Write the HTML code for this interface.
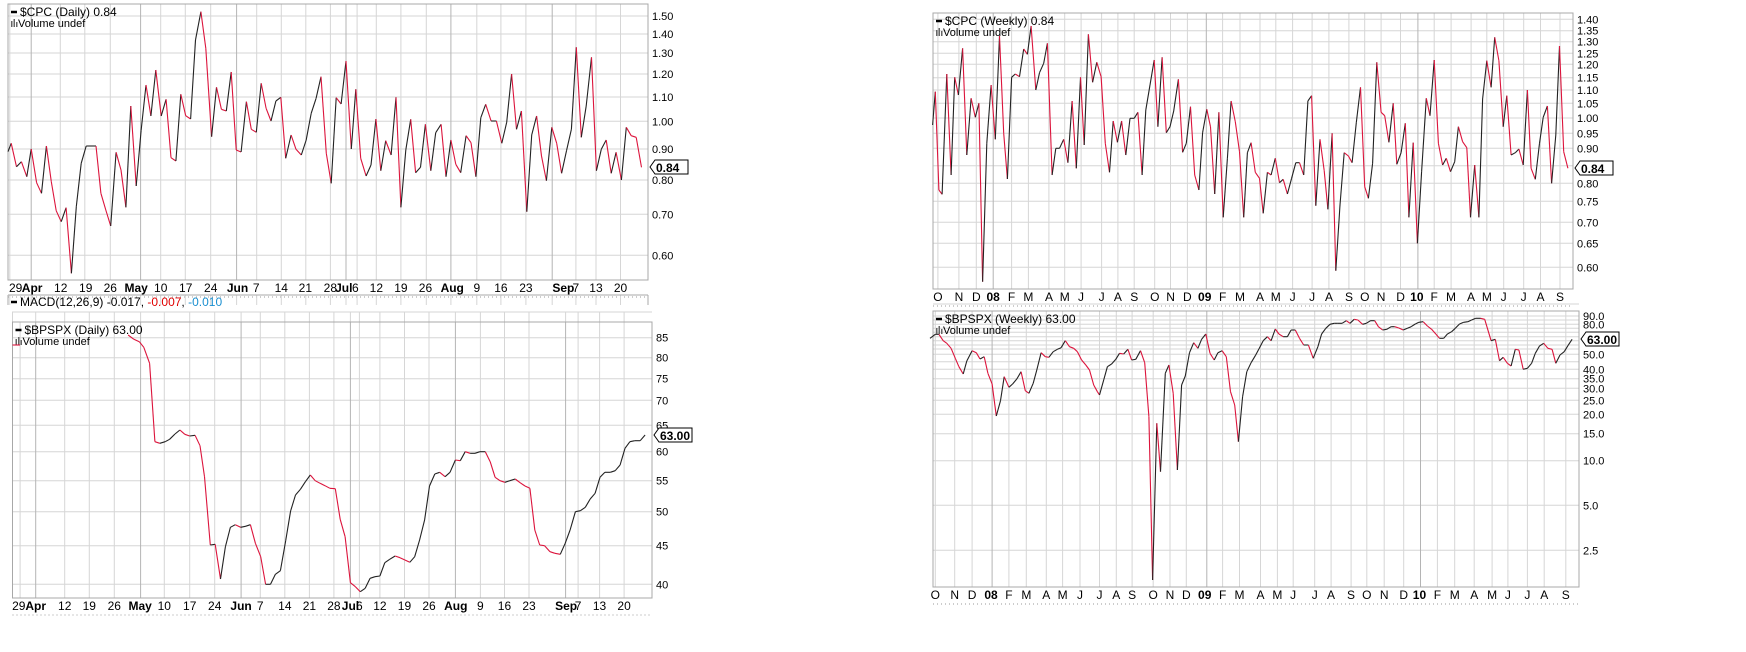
<!DOCTYPE html>
<html><head><meta charset="utf-8"><style>
html,body{margin:0;padding:0;background:#fff;width:1746px;height:652px;overflow:hidden}
svg text{font-family:"Liberation Sans",sans-serif;font-size:11px;fill:#000}
</style></head><body>
<svg id="s" width="1746" height="652" xmlns="http://www.w3.org/2000/svg"></svg>
<script>
var S=document.getElementById('s'),out=[];
function L(x1,y1,x2,y2,c,w,d){out.push('<line x1="'+x1.toFixed(1)+'" y1="'+y1.toFixed(1)+'" x2="'+x2.toFixed(1)+'" y2="'+y2.toFixed(1)+'" stroke="'+c+'" stroke-width="'+(w||1)+'"'+(d?' stroke-dasharray="'+d+'"':'')+'/>');}
function T(x,y,t,o){o=o||{};out.push('<text x="'+x+'" y="'+y+'"'+(o.a?' text-anchor="'+o.a+'"':'')+(o.b?' font-weight="bold"':'')+(o.s?' style="font-size:'+o.s+'px"':'')+(o.f?' fill="'+o.f+'"':'')+'>'+t+'</text>');}
function chart(c){
 var X=function(v){return c.ox+v/c.sx},Y=function(v){return c.oy+v/3};
 // hgrid
 c.h.forEach(function(g){var y=Y(g[0]);L(c.l,y,c.r,y,'#d6d6d6');if(g[1])T(c.r+4,y+4,g[1],{s:c.fs||11});});
 c.v.forEach(function(g){var x=X(g[0]);L(x,c.vt||c.t,x,c.b,g[1]?'#b4b4b4':'#d6d6d6');});
 out.push('<rect x="'+c.l+'" y="'+c.t+'" width="'+(c.r-c.l)+'" height="'+(c.b-c.t)+'" fill="none" stroke="#a8a8a8"/>');
 c.x.forEach(function(g){T(X(g[0]),c.b+12,g[1],{a:'middle',b:g[2],s:12});});
 L(c.l,c.b+17,c.r,c.b+17,'#999',1,'1,3');
 // series
 var p=c.p,d='';
 for(var i=1;i<p.length;i++){var col=p[i][1]>p[i-1][1]?'#dc143c':'#222';
  L(X(p[i-1][0]),Y(p[i-1][1]),X(p[i][0]),Y(p[i][1]),col,1.1);}
 // title
 L(c.l+3,c.t+8,c.l+9,c.t+8,'#000',2.5);
 T(c.l+12,c.t+12,c.title,{s:12});
 out.push('<rect x="'+(c.l+3)+'" y="'+(c.t+17)+'" width="1.5" height="6" fill="#666"/><rect x="'+(c.l+5.5)+'" y="'+(c.t+15)+'" width="1.5" height="8" fill="#666"/><rect x="'+(c.l+8)+'" y="'+(c.t+18)+'" width="1.5" height="5" fill="#666"/>');
 T(c.l+10,c.t+23,'Volume undef',{s:11,f:'#555'});
 // value box
 var by=c.box[1];
 out.push('<path d="M'+(c.r+2)+' '+by+' L'+(c.r+7)+' '+(by-7)+' L'+(c.r+40)+' '+(by-7)+' L'+(c.r+40)+' '+(by+7)+' L'+(c.r+7)+' '+(by+7)+' Z" fill="#fff" stroke="#000"/>');
 T(c.r+8,by+5,c.box[0],{b:1,s:12});
}
// ---------- top-left daily CPC ----------
chart({ox:0,sx:2.24,oy:0,l:8,r:648,t:4,b:280,title:'$CPC (Daily) 0.84',box:['0.84',167],
 h:[[48,'1.50'],[102,'1.40'],[159,'1.30'],[222,'1.20'],[291,'1.10'],[364,'1.00'],[447,'0.90'],[540,'0.80'],[643,'0.70'],[766,'0.60']],
 v:[[22],[70,1],[135],[190],[247],[315,1],[360],[415],[472],[530,1],[575],[630],[685],[740],[775,1],[800],[843],[898],[955],[1010,1],[1068],[1122],[1178],[1237,1],[1290],[1335],[1390]],
 x:[[35,'29'],[72,'Apr',1],[136,'12'],[192,'19'],[247,'26'],[305,'May',1],[360,'10'],[416,'17'],[472,'24'],[532,'Jun',1],[574,'7'],[630,'14'],[684,'21'],[740,'28'],[770,'Jul',1],[796,'6'],[843,'12'],[898,'19'],[953,'26'],[1013,'Aug',1],[1068,'9'],[1122,'16'],[1178,'23'],[1262,'Sep',1],[1290,'7'],[1335,'13'],[1390,'20']],
 p:[[18,455],[25,430],[37,500],[48,485],[60,530],[70,447],[82,548],[93,580],[104,438],[115,545],[126,632],[137,665],[148,623],[160,820],[171,620],[182,490],[193,438],[215,438],[226,580],[237,630],[248,678],[260,457],[271,510],[282,622],[293,318],[305,558],[316,392],[327,255],[338,348],[349,210],[361,348],[372,298],[383,473],[394,483],[405,283],[416,347],[427,357],[438,120],[450,35],[461,145],[474,410],[485,262],[496,328],[507,333],[518,216],[529,450],[540,456],[552,305],[563,388],[574,397],[585,250],[596,325],[607,363],[618,303],[629,292],[640,475],[652,405],[663,448],[675,465],[686,420],[697,340],[708,295],[719,230],[731,460],[742,550],[753,293],[764,312],[775,183],[787,447],[797,268],[808,475],[820,528],[831,495],[842,357],[853,512],[864,422],[876,465],[887,292],[898,622],[909,450],[920,358],[931,518],[942,502],[953,373],[965,512],[976,398],[988,373],[999,530],[1010,420],[1021,493],[1032,518],[1044,407],[1055,428],[1066,530],[1077,353],[1088,313],[1100,363],[1112,363],[1124,430],[1135,367],[1146,222],[1157,388],[1168,333],[1180,635],[1191,405],[1202,348],[1213,468],[1224,542],[1236,382],[1247,430],[1258,520],[1269,452],[1280,388],[1291,142],[1302,412],[1313,318],[1325,172],[1336,512],[1347,448],[1358,420],[1369,520],[1380,457],[1392,540],[1403,382],[1414,407],[1425,412],[1437,502]]});
// MACD strip
[22,70,135,190,247,315,360,415,472,530,575,630,685,740,775,800,843,898,955,1010,1068,1122,1178,1237,1290,1335,1390].forEach(function(x){L(x/2.24,295,x/2.24,305,'#d6d6d6');});
L(8,295,648,295,'#a8a8a8');L(8,295,8,305,'#a8a8a8');L(648,295,648,305,'#a8a8a8');
L(11,302,17,302,'#000',2.5);
out.push('<text x="20" y="306" style="font-size:12px">MACD(12,26,9) -0.017, <tspan fill="#e00000">-0.007</tspan>, <tspan fill="#1a8fd0">-0.010</tspan></text>');
[28,80,145,200,256,315,368,425,481,540,583,638,693,748,785,805,851,906,961,1020,1076,1130,1185,1267,1295,1343,1398].forEach(function(x){L(x/2.24,312,x/2.24,322,'#d6d6d6');});
L(12,312,652,312,'#d6d6d6');
// ---------- bottom-left daily BPSPX ----------
chart({ox:0,sx:2.24,oy:300,l:12.5,r:652,t:322,b:598,title:'$BPSPX (Daily) 63.00',box:['63.00',435],
 h:[[113,'85'],[173,'80'],[236,'75'],[301,'70'],[376,'65'],[455,'60'],[542,'55'],[635,'50'],[737,'45'],[853,'40']],
 v:[[45],[80,1],[145],[200],[256],[315,1],[368],[425],[481],[540,1],[583],[638],[693],[748],[785,1],[805],[851],[906],[961],[1020,1],[1076],[1130],[1185],[1267,1],[1295],[1343],[1398]],
 x:[[42,'29'],[80,'Apr',1],[145,'12'],[200,'19'],[256,'26'],[314,'May',1],[368,'10'],[425,'17'],[481,'24'],[540,'Jun',1],[583,'7'],[638,'14'],[693,'21'],[748,'28'],[785,'Jul',1],[805,'6'],[851,'12'],[906,'19'],[961,'26'],[1021,'Aug',1],[1076,'9'],[1130,'16'],[1185,'23'],[1268,'Sep',1],[1295,'7'],[1343,'13'],[1398,'20']],
 p:[[287,105],[300,118],[312,125],[322,142],[335,190],[347,425],[358,430],[370,425],[380,418],[392,402],[403,390],[414,403],[425,408],[437,406],[448,437],[458,530],[471,735],[482,733],[494,837],[505,740],[516,682],[527,674],[539,682],[550,679],[561,674],[572,730],[584,770],[595,853],[606,853],[617,823],[628,812],[640,722],[651,633],[662,585],[673,568],[684,545],[695,525],[706,542],[717,550],[728,557],[739,565],[751,566],[762,658],[773,710],[785,848],[796,860],[807,875],[818,865],[829,835],[840,830],[851,828],[862,788],[873,778],[885,768],[896,773],[907,780],[918,787],[929,770],[940,720],[951,660],[962,558],[974,522],[985,517],[997,530],[1008,517],[1020,480],[1031,482],[1042,455],[1053,460],[1064,460],[1075,455],[1087,455],[1098,485],[1109,532],[1120,542],[1131,547],[1142,542],[1154,537],[1165,548],[1176,558],[1187,565],[1198,690],[1209,735],[1220,737],[1232,755],[1243,760],[1255,763],[1266,730],[1277,690],[1289,635],[1300,632],[1311,622],[1322,597],[1333,580],[1344,532],[1355,517],[1367,517],[1378,512],[1389,495],[1400,445],[1411,425],[1422,422],[1434,422],[1445,405]]});
L(12.5,345,20,345,'#dc143c',1.1);
// ---------- top-right weekly CPC ----------
chart({ox:930,sx:1.9,oy:0,l:933,r:1573,t:13,b:289,title:'$CPC (Weekly) 0.84',box:['0.84',168],
 h:[[58,'1.40'],[92,'1.35'],[125,'1.30'],[160,'1.25'],[193,'1.20'],[233,'1.15'],[270,'1.10'],[310,'1.05'],[354,'1.00'],[400,'0.95'],[445,'0.90'],[497],[550,'0.80'],[604,'0.75'],[667,'0.70'],[730,'0.65'],[802,'0.60']],
 v:[[15],[55],[88],[120,1],[155],[187],[226],[256],[287],[326],[357],[388],[427],[457],[489],[525,1],[556],[589],[627],[657],[689],[726],[758],[796],[826],[857],[894],[927,1],[958],[990],[1028],[1058],[1090],[1128],[1160],[1197]],
 x:[[15,'O'],[55,'N'],[88,'D'],[120,'08',1],[155,'F'],[187,'M'],[226,'A'],[256,'M'],[287,'J'],[326,'J'],[357,'A'],[388,'S'],[427,'O'],[457,'N'],[489,'D'],[522,'09',1],[556,'F'],[589,'M'],[627,'A'],[657,'M'],[689,'J'],[726,'J'],[758,'A'],[796,'S'],[826,'O'],[857,'N'],[894,'D'],[925,'10',1],[958,'F'],[990,'M'],[1028,'A'],[1058,'M'],[1090,'J'],[1128,'J'],[1160,'A'],[1197,'S']],
 p:[[5,375],[10,275],[17,570],[23,583],[32,222],[40,525],[47,232],[54,285],[62,145],[70,465],[78,295],[86,352],[93,310],[100,845],[108,430],[116,255],[124,418],[132,108],[140,400],[147,537],[155,232],[162,222],[170,230],[178,147],[185,163],[192,78],[201,270],[208,218],[216,190],[223,130],[232,525],[239,445],[246,445],[254,418],[262,488],[270,303],[278,505],[286,232],[293,435],[301,103],[309,247],[317,187],[325,230],[333,430],[341,517],[348,363],[356,427],[364,363],[372,465],[380,355],[388,355],[395,337],[403,525],[410,330],[418,255],[426,180],[433,380],[441,172],[449,398],[456,380],[463,333],[472,238],[480,457],[487,430],[495,320],[503,525],[511,570],[518,398],[526,328],[533,380],[541,582],[549,337],[557,652],[565,475],[572,303],[580,365],[588,455],[596,652],[603,458],[610,428],[618,517],[626,535],[633,640],[641,517],[648,525],[656,475],[664,548],[671,538],[679,582],[687,535],[695,488],[702,488],[710,525],[718,303],[725,287],[733,617],[741,418],[749,512],[756,628],[764,400],[771,812],[779,615],[787,458],[795,468],[802,488],[810,368],[818,262],[826,560],[833,595],[841,490],[849,187],[857,337],[864,347],[872,427],[880,310],[887,493],[895,458],[903,370],[910,652],[918,428],[926,730],[934,515],[943,295],[950,347],[958,180],[966,430],[974,495],[981,475],[989,515],[997,485],[1004,380],[1012,425],[1020,443],[1027,652],[1035,495],[1043,652],[1050,297],[1058,182],[1066,262],[1073,112],[1081,182],[1089,380],[1096,287],[1104,465],[1112,458],[1119,447],[1127,495],[1135,270],[1142,505],[1150,538],[1158,430],[1165,352],[1173,318],[1181,550],[1189,405],[1196,138],[1204,455],[1212,505]]});
// ---------- bottom-right weekly BPSPX ----------
chart({ox:930,sx:1.9,oy:300,l:933,r:1579,t:311,b:587,fs:11,title:'$BPSPX (Weekly) 63.00',box:['63.00',339],
 h:[[48,'90.0'],[60],[73,'80.0'],[85],[97],[110],[122],[135],[147],[163,'50.0'],[185],[208,'40.0'],[236,'35.0'],[265,'30.0'],[301,'25.0'],[343,'20.0'],[401,'15.0'],[482,'10.0'],[616,'5.0'],[751,'2.5']],
 v:[[10],[47],[80],[118,1],[150],[183],[221],[252],[285],[322],[354],[384],[424],[456],[487],[526,1],[556],[588],[628],[660],[690],[731],[762],[800],[830],[863],[900],[932,1],[964],[997],[1034],[1068],[1098],[1135],[1167],[1208]],
 x:[[10,'O'],[47,'N'],[80,'D'],[116,'08',1],[150,'F'],[183,'M'],[221,'A'],[252,'M'],[285,'J'],[322,'J'],[354,'A'],[384,'S'],[424,'O'],[456,'N'],[487,'D'],[522,'09',1],[556,'F'],[588,'M'],[628,'A'],[660,'M'],[690,'J'],[731,'J'],[762,'A'],[800,'S'],[830,'O'],[863,'N'],[900,'D'],[930,'10',1],[964,'F'],[997,'M'],[1034,'A'],[1068,'M'],[1098,'J'],[1135,'J'],[1167,'A'],[1208,'S']],
 p:[[0,115],[10,103],[17,103],[25,122],[32,130],[40,145],[48,175],[55,200],[63,222],[70,183],[80,152],[88,158],[95,177],[103,170],[110,220],[118,252],[126,348],[134,302],[141,230],[150,262],[157,252],[165,237],[173,215],[181,272],[188,280],[196,250],[203,210],[211,158],[219,170],[226,172],[234,155],[242,148],[249,143],[257,122],[265,140],[273,145],[280,155],[288,180],[296,195],[303,210],[311,255],[318,275],[322,285],[330,240],[337,200],[345,192],[353,178],[360,160],[368,162],[376,148],[383,180],[391,178],[400,152],[408,188],[416,350],[423,840],[431,370],[438,515],[447,220],[454,195],[462,280],[470,510],[478,255],[485,228],[493,158],[501,128],[509,145],[516,118],[524,102],[532,160],[540,180],[547,158],[555,152],[563,170],[571,275],[579,315],[586,425],[594,290],[602,215],[610,188],[618,167],[625,147],[633,122],[641,110],[648,122],[656,87],[663,102],[671,110],[679,110],[686,90],[694,90],[702,115],[710,135],[719,135],[728,175],[737,140],[744,102],[752,85],[760,73],[768,70],[775,70],[783,70],[791,62],[798,70],[806,58],[813,60],[822,73],[829,70],[837,62],[845,62],[852,80],[860,90],[868,88],[876,80],[883,80],[891,84],[899,90],[907,85],[914,80],[922,72],[929,67],[937,65],[945,78],[953,88],[961,102],[968,115],[976,115],[983,102],[991,95],[998,85],[1006,72],[1014,67],[1022,65],[1029,60],[1037,55],[1046,55],[1054,58],[1066,122],[1074,118],[1082,182],[1089,172],[1097,190],[1104,198],[1112,148],[1119,150],[1127,208],[1135,205],[1143,190],[1150,160],[1158,138],[1166,130],[1174,145],[1182,148],[1189,190],[1197,165],[1205,155],[1212,137],[1220,118]]});
L(933,304,1579,304,'#d6d6d6');
S.innerHTML=out.join('');
</script>
</body></html>
